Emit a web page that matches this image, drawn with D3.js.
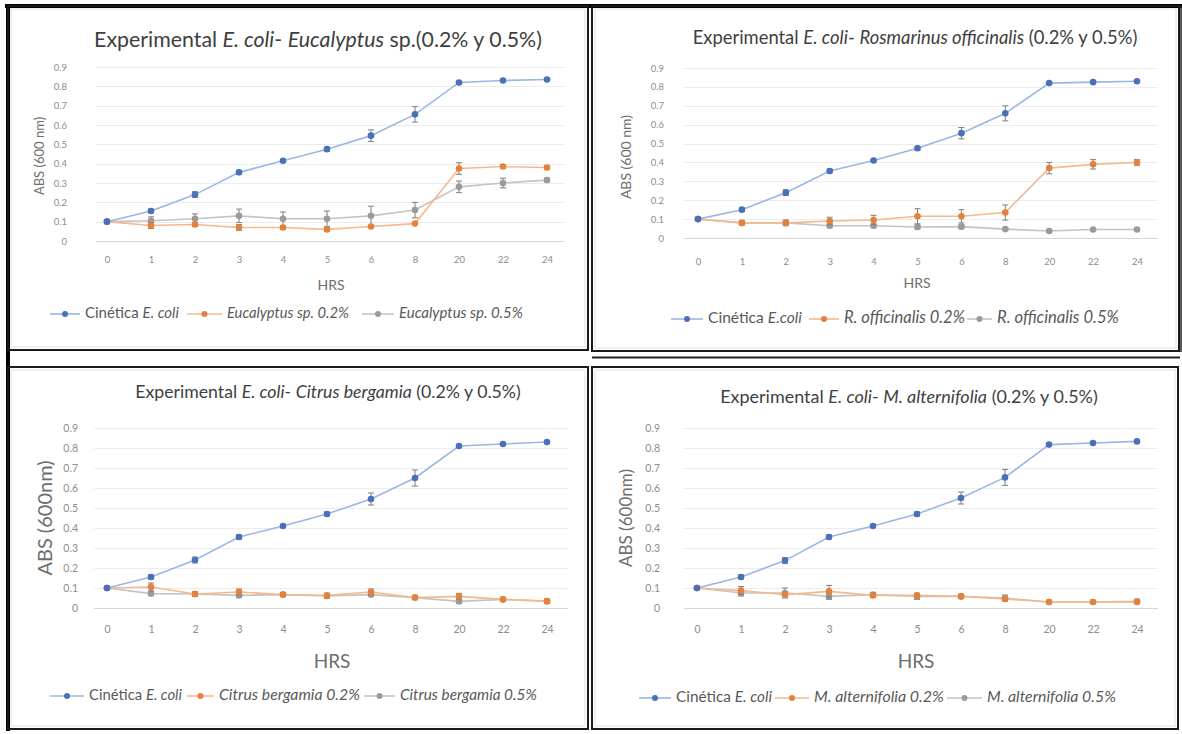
<!DOCTYPE html>
<html>
<head>
<meta charset="utf-8">
<script src="https://cdn.jsdelivr.net/npm/d3@7"></script>
<style>
  body { margin: 0; background: #fff; }
  svg { display: block; font-family: Lato, "Open Sans", sans-serif; }
</style>
</head>
<body>
<div id="wrapper"></div>
<script>
// 1. DATA
const hours = ["0", "1", "2", "3", "4", "5", "6", "8", "20", "22", "24"]
const yTicks = [0, 0.1, 0.2, 0.3, 0.4, 0.5, 0.6, 0.7, 0.8, 0.9]

// Eucalyptus panel
const ecoliEuc     = [0.10, 0.155, 0.24, 0.355, 0.415, 0.475, 0.545, 0.655, 0.82, 0.83, 0.835]
const ecoliEucErr  = [0.005, 0.01, 0.015, 0.01, 0.005, 0.01, 0.03, 0.04, 0.005, 0.005, 0.005]
const euc02        = [0.10, 0.08, 0.085, 0.07, 0.07, 0.06, 0.075, 0.09, 0.375, 0.385, 0.38]
const euc02Err     = [0.005, 0.015, 0.01, 0.015, 0.01, 0.01, 0.005, 0.005, 0.03, 0.01, 0.01]
const euc05        = [0.10, 0.105, 0.115, 0.13, 0.115, 0.115, 0.13, 0.16, 0.28, 0.30, 0.315]
const euc05Err     = [0.005, 0.02, 0.025, 0.035, 0.035, 0.04, 0.05, 0.04, 0.03, 0.025, 0.01]

// Rosmarinus panel
const ecoliRos     = [0.10, 0.15, 0.24, 0.355, 0.41, 0.475, 0.555, 0.66, 0.82, 0.825, 0.83]
const ecoliRosErr  = [0.005, 0.01, 0.015, 0.01, 0.005, 0.01, 0.03, 0.04, 0.005, 0.005, 0.005]
const ros02        = [0.10, 0.08, 0.08, 0.09, 0.095, 0.115, 0.115, 0.135, 0.37, 0.39, 0.40]
const ros02Err     = [0.005, 0.01, 0.015, 0.02, 0.025, 0.04, 0.035, 0.04, 0.03, 0.025, 0.015]
const ros05        = [0.10, 0.08, 0.08, 0.065, 0.065, 0.058, 0.06, 0.047, 0.037, 0.045, 0.045]
const ros05Err     = [0.005, 0.01, 0.01, 0.01, 0.01, 0.01, 0.01, 0.005, 0.005, 0.005, 0.005]

// Citrus panel
const ecoliCit     = [0.10, 0.155, 0.24, 0.355, 0.41, 0.47, 0.545, 0.65, 0.81, 0.82, 0.83]
const ecoliCitErr  = [0.005, 0.01, 0.015, 0.01, 0.005, 0.01, 0.03, 0.04, 0.005, 0.005, 0.005]
const cit02        = [0.10, 0.105, 0.07, 0.08, 0.067, 0.063, 0.08, 0.052, 0.058, 0.043, 0.035]
const cit02Err     = [0.005, 0.02, 0.01, 0.015, 0.01, 0.01, 0.015, 0.01, 0.015, 0.005, 0.01]
const cit05        = [0.10, 0.072, 0.07, 0.063, 0.067, 0.06, 0.067, 0.052, 0.033, 0.043, 0.033]
const cit05Err     = [0.005, 0.01, 0.01, 0.01, 0.005, 0.01, 0.01, 0.01, 0.01, 0.005, 0.01]

// Melaleuca panel
const ecoliMel     = [0.10, 0.155, 0.237, 0.355, 0.41, 0.47, 0.55, 0.653, 0.817, 0.825, 0.833]
const ecoliMelErr  = [0.005, 0.01, 0.015, 0.01, 0.005, 0.01, 0.03, 0.04, 0.005, 0.005, 0.005]
const mel02        = [0.10, 0.087, 0.067, 0.083, 0.063, 0.063, 0.058, 0.045, 0.03, 0.03, 0.03]
const mel02Err     = [0.005, 0.02, 0.01, 0.03, 0.01, 0.01, 0.01, 0.01, 0.005, 0.005, 0.005]
const mel05        = [0.10, 0.075, 0.075, 0.058, 0.067, 0.058, 0.058, 0.05, 0.03, 0.03, 0.033]
const mel05Err     = [0.005, 0.015, 0.025, 0.015, 0.01, 0.015, 0.01, 0.015, 0.005, 0.005, 0.01]

// texts ([text, italic])
const titleEuc = [["Experimental ", 0], ["E. coli", 1], ["- ", 0], ["Eucalyptus", 1], [" sp.(0.2% y 0.5%)", 0]]
const titleRos = [["Experimental ", 0], ["E. coli", 1], ["- ", 0], ["Rosmarinus officinalis", 1], [" (0.2% y 0.5%)", 0]]
const titleCit = [["Experimental ", 0], ["E. coli", 1], ["- ", 0], ["Citrus bergamia", 1], [" (0.2% y 0.5%)", 0]]
const titleMel = [["Experimental ", 0], ["E. coli", 1], ["- ", 0], ["M. alternifolia", 1], [" (0.2% y 0.5%)", 0]]

const legendEuc = [[["Cinética ", 0], ["E. coli", 1]], [["Eucalyptus sp. 0.2%", 1]], [["Eucalyptus sp. 0.5%", 1]]]
const legendRos = [[["Cinética ", 0], ["E.coli", 1]], [["R. officinalis 0.2%", 1]], [["R. officinalis 0.5%", 1]]]
const legendCit = [[["Cinética ", 0], ["E. coli", 1]], [["Citrus bergamia 0.2%", 1]], [["Citrus bergamia 0.5%", 1]]]
const legendMel = [[["Cinética ", 0], ["E. coli", 1]], [["M. alternifolia 0.2%", 1]], [["M. alternifolia 0.5%", 1]]]

const yLabels = ["ABS  (600 nm)", "ABS (600 nm)", "ABS (600nm)", "ABS (600nm)"]
const xLabel = "HRS"

const colors = [
  { line: "#9ab7e4", dot: "#4a70b8" },
  { line: "#f5b98e", dot: "#e5803e" },
  { line: "#c4c4c4", dot: "#9a9a9a" },
]

// 2. DIMENSIONS (one layout per panel)
const panels = [
  {
    frame: { x: 8, y: 6, w: 580, h: 344 },
    title: titleEuc, titleX: 318, titleY: 42, titleW: 448, titleSize: 19,
    x0: 107, x1: 547, y0: 241, y9: 67, gx0: 96, gx1: 564,
    yTickX: 67, xTickY: 262, tickSize: 9.5,
    hrsX: 331, hrsY: 286, hrsSize: 14,
    yLabel: yLabels[0], yLabelX: 41, yLabelY: 156, yLabelSize: 13,
    legendY: 314, legendX: [50, 187, 362], legendLine: [30, 35, 32], legendW: [94, 122, 124], legendSize: 12, legend: legendEuc,
    series: [[ecoliEuc, ecoliEucErr], [euc02, euc02Err], [euc05, euc05Err]],
  },
  {
    frame: { x: 592, y: 6, w: 587, h: 345 },
    title: titleRos, titleX: 915, titleY: 39, titleW: 445, titleSize: 15,
    x0: 698, x1: 1137, y0: 238, y9: 68, gx0: 684, gx1: 1158,
    yTickX: 664, xTickY: 264, tickSize: 9.5,
    hrsX: 917, hrsY: 284, hrsSize: 14,
    yLabel: yLabels[1], yLabelX: 627, yLabelY: 157, yLabelSize: 14,
    legendY: 319, legendX: [671, 809, 967], legendLine: [32, 30, 25], legendW: [94, 121, 122], legendSize: 12, legend: legendRos,
    series: [[ecoliRos, ecoliRosErr], [ros02, ros02Err], [ros05, ros05Err]],
  },
  {
    frame: { x: 8, y: 367, w: 580, h: 362 },
    title: titleCit, titleX: 328, titleY: 394, titleW: 386, titleSize: 14,
    x0: 107, x1: 547, y0: 608, y9: 428, gx0: 94, gx1: 568,
    yTickX: 78, xTickY: 632, tickSize: 10.5,
    hrsX: 332, hrsY: 663, hrsSize: 19,
    yLabel: yLabels[2], yLabelX: 47, yLabelY: 518, yLabelSize: 20,
    legendY: 696, legendX: [50, 187, 364], legendLine: [34, 27, 31], legendW: [93, 141, 137], legendSize: 12, legend: legendCit,
    series: [[ecoliCit, ecoliCitErr], [cit02, cit02Err], [cit05, cit05Err]],
  },
  {
    frame: { x: 592, y: 367, w: 586, h: 362 },
    title: titleMel, titleX: 909, titleY: 398, titleW: 378, titleSize: 15,
    x0: 697, x1: 1137, y0: 608, y9: 428, gx0: 684, gx1: 1158,
    yTickX: 660, xTickY: 632, tickSize: 10.5,
    hrsX: 916, hrsY: 663, hrsSize: 19,
    yLabel: yLabels[3], yLabelX: 628, yLabelY: 518, yLabelSize: 17,
    legendY: 698, legendX: [639, 775, 947], legendLine: [32, 34, 35], legendW: [96, 130, 129], legendSize: 12, legend: legendMel,
    series: [[ecoliMel, ecoliMelErr], [mel02, mel02Err], [mel05, mel05Err]],
  },
]

// 3. DRAW CANVAS
const wrapper = d3.select("#wrapper")
  .append("svg")
    .attr("width", 1182)
    .attr("height", 734)

// thick black band along the top and left edge of the picture
wrapper.append("rect")
  .attr("x", 5).attr("y", 4).attr("width", 1177).attr("height", 4)
  .attr("fill", "#000")
wrapper.append("rect")
  .attr("x", 6).attr("y", 4).attr("width", 4).attr("height", 727)
  .attr("fill", "#000")

// extra rules: under the top-right panel, and the double right edge
wrapper.append("line")
  .attr("x1", 592).attr("x2", 1180).attr("y1", 357.5).attr("y2", 357.5)
  .attr("stroke", "#222").attr("stroke-width", 2)
wrapper.append("line")
  .attr("x1", 1181).attr("x2", 1181).attr("y1", 6).attr("y2", 352)
  .attr("stroke", "#222").attr("stroke-width", 1.5)

function addRuns(sel, runs) {
  runs.forEach(([t, it]) => {
    sel.append("tspan")
      .attr("font-style", it ? "italic" : "normal")
      .text(t)
  })
}

function fitText(sel, size, target) {
  const w = sel.node().getComputedTextLength()
  sel.style("font-size", (size * target / w) + "px")
}

function drawPanel(p) {
  const g = wrapper.append("g")

  // frame
  g.append("rect")
    .attr("x", p.frame.x).attr("y", p.frame.y)
    .attr("width", p.frame.w).attr("height", p.frame.h)
    .attr("fill", "none").attr("stroke", "#1a1a1a").attr("stroke-width", 2)
  g.append("rect")
    .attr("x", p.frame.x + 3).attr("y", p.frame.y + 3)
    .attr("width", p.frame.w - 6).attr("height", p.frame.h - 6)
    .attr("fill", "none").attr("stroke", "#e2e2e2").attr("stroke-width", 1)

  // 4. CREATE SCALES
  const xScale = d3.scalePoint()
    .domain(hours)
    .range([p.x0, p.x1])
  const yScale = d3.scaleLinear()
    .domain([0, 0.9])
    .range([p.y0, p.y9])

  // gridlines
  g.append("g").selectAll("line")
    .data(yTicks)
    .enter().append("line")
      .attr("x1", p.gx0).attr("x2", p.gx1)
      .attr("y1", d => Math.round(yScale(d)) + 0.5)
      .attr("y2", d => Math.round(yScale(d)) + 0.5)
      .attr("stroke", d => d === 0 ? "#d6d6d6" : "#ececec")
      .attr("stroke-width", 1)

  // axes
  const yAxis = g.append("g")
    .attr("transform", `translate(${p.yTickX},0)`)
    .call(d3.axisLeft(yScale)
      .tickValues(yTicks)
      .tickSize(0)
      .tickPadding(0)
      .tickFormat(d => d === 0 ? "0" : d3.format(".1f")(d)))
  yAxis.select(".domain").remove()
  yAxis.selectAll("text")
    .attr("fill", "#8c8c8c")
    .style("font-family", "Lato, sans-serif")
    .style("font-size", p.tickSize + "px")

  const xAxis = g.append("g")
    .attr("transform", `translate(0,${p.xTickY - 6})`)
    .call(d3.axisBottom(xScale).tickSize(0).tickPadding(0))
  xAxis.select(".domain").remove()
  xAxis.selectAll("text")
    .attr("fill", "#8c8c8c")
    .style("font-family", "Lato, sans-serif")
    .style("font-size", p.tickSize + "px")

  // title
  const title = g.append("text")
    .attr("x", p.titleX).attr("y", p.titleY)
    .attr("text-anchor", "middle")
    .attr("dominant-baseline", "middle")
    .attr("fill", "#404040")
    .style("font-size", p.titleSize + "px")
  addRuns(title, p.title)
  fitText(title, p.titleSize, p.titleW)

  // axis labels
  g.append("text")
    .attr("x", p.hrsX).attr("y", p.hrsY)
    .attr("text-anchor", "middle")
    .attr("dominant-baseline", "middle")
    .attr("fill", "#6e6e6e")
    .style("font-size", p.hrsSize + "px")
    .text(xLabel)

  g.append("text")
    .attr("transform", `translate(${p.yLabelX},${p.yLabelY}) rotate(-90)`)
    .attr("text-anchor", "middle")
    .attr("dominant-baseline", "middle")
    .attr("fill", "#6e6e6e")
    .style("font-size", p.yLabelSize + "px")
    .text(p.yLabel)

  // 5. DRAW DATA
  const lineGen = d3.line()
    .x((d, i) => xScale(hours[i]))
    .y(d => yScale(d))

  // draw series from last to first so E. coli sits on top
  p.series.slice().reverse().forEach((s, ri) => {
    const k = p.series.length - 1 - ri
    const [vals, errs] = s
    const sg = g.append("g")

    sg.append("path")
      .datum(vals)
      .attr("d", lineGen)
      .attr("fill", "none")
      .attr("stroke", colors[k].line)
      .attr("stroke-width", 1.6)

    const eb = sg.append("g").selectAll("g")
      .data(vals)
      .enter().append("g")
    eb.append("line")
      .attr("x1", (d, i) => xScale(hours[i]))
      .attr("x2", (d, i) => xScale(hours[i]))
      .attr("y1", (d, i) => yScale(d + errs[i]))
      .attr("y2", (d, i) => yScale(d - errs[i]))
      .attr("stroke", "#7f7f7f").attr("stroke-width", 1)
    eb.append("line")
      .attr("x1", (d, i) => xScale(hours[i]) - 3)
      .attr("x2", (d, i) => xScale(hours[i]) + 3)
      .attr("y1", (d, i) => yScale(d + errs[i]))
      .attr("y2", (d, i) => yScale(d + errs[i]))
      .attr("stroke", "#7f7f7f").attr("stroke-width", 1)
    eb.append("line")
      .attr("x1", (d, i) => xScale(hours[i]) - 3)
      .attr("x2", (d, i) => xScale(hours[i]) + 3)
      .attr("y1", (d, i) => yScale(d - errs[i]))
      .attr("y2", (d, i) => yScale(d - errs[i]))
      .attr("stroke", "#7f7f7f").attr("stroke-width", 1)

    sg.append("g").selectAll("circle")
      .data(vals)
      .enter().append("circle")
        .attr("cx", (d, i) => xScale(hours[i]))
        .attr("cy", d => yScale(d))
        .attr("r", 3.3)
        .attr("fill", colors[k].dot)
  })

  // 6. DRAW PERIPHERALS
  // legend
  p.legend.forEach((runs, k) => {
    const lx = p.legendX[k]
    const len = p.legendLine[k]
    g.append("line")
      .attr("x1", lx).attr("x2", lx + len)
      .attr("y1", p.legendY).attr("y2", p.legendY)
      .attr("stroke", colors[k].line).attr("stroke-width", 1.6)
    g.append("circle")
      .attr("cx", lx + len / 2).attr("cy", p.legendY)
      .attr("r", 3)
      .attr("fill", colors[k].dot)
    const t = g.append("text")
      .attr("x", lx + len + 5).attr("y", p.legendY)
      .attr("dominant-baseline", "middle")
      .attr("fill", "#595959")
      .style("font-size", p.legendSize + "px")
    addRuns(t, runs)
    fitText(t, p.legendSize, p.legendW[k])
  })
}

panels.forEach(drawPanel)
</script>
</body>
</html>
